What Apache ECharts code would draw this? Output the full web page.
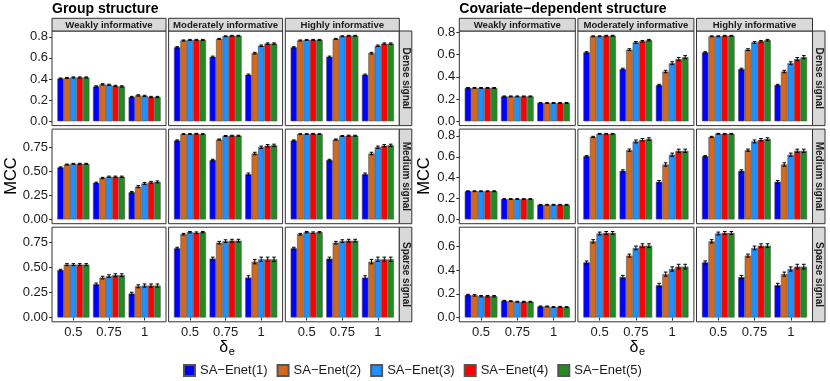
<!DOCTYPE html>
<html>
<head>
<meta charset="utf-8">
<script src="https://cdn.jsdelivr.net/npm/echarts@6/dist/echarts.min.js"></script>
<style>
  html, body { margin: 0; padding: 0; background: #fff; }
  #chart { width: 830px; height: 381px; }
</style>
</head>
<body>
<div id="chart"></div>
<script>
const methods = ['SA−Enet(1)', 'SA−Enet(2)', 'SA−Enet(3)', 'SA−Enet(4)', 'SA−Enet(5)']
const colors = ['#0000FF', '#D2691E', '#1E90FF', '#FF0000', '#228B22']
const deltas = ['0.5', '0.75', '1']
const infoLevels = ['Weakly informative', 'Moderately informative', 'Highly informative']
const signals = ['Dense signal', 'Medium signal', 'Sparse signal']
const structures = ['Group structure', 'Covariate−dependent structure']

// y tick labels per signal row
const ticksGroup = [['0.0', '0.2', '0.4', '0.6', '0.8'], ['0.00', '0.25', '0.50', '0.75'], ['0.00', '0.25', '0.50', '0.75']]
const ticksCovariate = [['0.0', '0.2', '0.4', '0.6', '0.8'], ['0.0', '0.2', '0.4', '0.6', '0.8'], ['0.0', '0.2', '0.4', '0.6']]

// MCC means: one row per delta_e, one value per method
const groupDenseWeak = [[0.405, 0.41, 0.415, 0.415, 0.415], [0.33, 0.35, 0.345, 0.335, 0.33], [0.23, 0.245, 0.24, 0.23, 0.23]]
const groupDenseModerate = [[0.70, 0.765, 0.77, 0.77, 0.77], [0.61, 0.78, 0.805, 0.81, 0.81], [0.44, 0.645, 0.715, 0.735, 0.735]]
const groupDenseHigh = [[0.70, 0.765, 0.77, 0.77, 0.77], [0.61, 0.78, 0.805, 0.81, 0.81], [0.44, 0.645, 0.715, 0.735, 0.735]]
const groupMediumWeak = [[0.54, 0.57, 0.578, 0.578, 0.578], [0.38, 0.43, 0.443, 0.443, 0.443], [0.283, 0.34, 0.373, 0.385, 0.39]]
const groupMediumModerate = [[0.82, 0.887, 0.887, 0.89, 0.887], [0.617, 0.83, 0.867, 0.87, 0.87], [0.47, 0.685, 0.75, 0.766, 0.77]]
const groupMediumHigh = [[0.82, 0.887, 0.887, 0.89, 0.887], [0.617, 0.83, 0.867, 0.87, 0.87], [0.47, 0.685, 0.75, 0.766, 0.77]]
const groupSparseWeak = [[0.475, 0.53, 0.53, 0.53, 0.53], [0.333, 0.40, 0.414, 0.424, 0.424], [0.24, 0.313, 0.32, 0.32, 0.32]]
const groupSparseModerate = [[0.694, 0.835, 0.855, 0.85, 0.855], [0.59, 0.75, 0.765, 0.77, 0.77], [0.40, 0.56, 0.583, 0.583, 0.583]]
const groupSparseHigh = [[0.694, 0.835, 0.855, 0.85, 0.855], [0.59, 0.75, 0.765, 0.77, 0.77], [0.40, 0.56, 0.583, 0.583, 0.583]]

const covDenseWeak = [[0.30, 0.30, 0.30, 0.30, 0.30], [0.224, 0.224, 0.224, 0.224, 0.224], [0.165, 0.165, 0.165, 0.165, 0.165]]
const covDenseModerate = [[0.62, 0.765, 0.765, 0.77, 0.77], [0.47, 0.645, 0.71, 0.72, 0.73], [0.326, 0.448, 0.523, 0.56, 0.577]]
const covDenseHigh = [[0.62, 0.765, 0.765, 0.77, 0.77], [0.47, 0.645, 0.71, 0.72, 0.73], [0.326, 0.448, 0.523, 0.56, 0.577]]
const covMediumWeak = [[0.27, 0.27, 0.27, 0.27, 0.27], [0.195, 0.195, 0.195, 0.195, 0.195], [0.14, 0.14, 0.14, 0.14, 0.14]]
const covMediumModerate = [[0.605, 0.79, 0.82, 0.82, 0.82], [0.465, 0.663, 0.747, 0.763, 0.77], [0.36, 0.526, 0.62, 0.657, 0.657]]
const covMediumHigh = [[0.605, 0.79, 0.82, 0.82, 0.82], [0.465, 0.663, 0.747, 0.763, 0.77], [0.36, 0.526, 0.62, 0.657, 0.657]]
const covSparseWeak = [[0.19, 0.187, 0.18, 0.18, 0.18], [0.141, 0.138, 0.133, 0.133, 0.133], [0.093, 0.093, 0.088, 0.09, 0.088]]
const covSparseModerate = [[0.466, 0.644, 0.71, 0.715, 0.715], [0.342, 0.523, 0.588, 0.607, 0.607], [0.274, 0.367, 0.41, 0.43, 0.43]]
const covSparseHigh = [[0.466, 0.644, 0.71, 0.715, 0.715], [0.342, 0.523, 0.588, 0.607, 0.607], [0.274, 0.367, 0.41, 0.43, 0.43]]

// standard errors, same shape
const groupDenseWeakErr = [[0.005, 0.005, 0.005, 0.005, 0.005], [0.006, 0.006, 0.006, 0.006, 0.006], [0.006, 0.006, 0.006, 0.006, 0.006]]
const groupDenseModerateErr = [[0.006, 0.005, 0.005, 0.005, 0.005], [0.007, 0.005, 0.004, 0.004, 0.004], [0.007, 0.008, 0.007, 0.007, 0.007]]
const groupDenseHighErr = [[0.006, 0.005, 0.005, 0.005, 0.005], [0.007, 0.005, 0.004, 0.004, 0.004], [0.007, 0.008, 0.007, 0.007, 0.007]]
const groupMediumWeakErr = [[0.006, 0.005, 0.005, 0.005, 0.005], [0.007, 0.007, 0.007, 0.007, 0.007], [0.008, 0.01, 0.01, 0.01, 0.01]]
const groupMediumModerateErr = [[0.006, 0.004, 0.004, 0.004, 0.004], [0.008, 0.006, 0.005, 0.005, 0.005], [0.012, 0.013, 0.012, 0.012, 0.012]]
const groupMediumHighErr = [[0.006, 0.004, 0.004, 0.004, 0.004], [0.008, 0.006, 0.005, 0.005, 0.005], [0.012, 0.013, 0.012, 0.012, 0.012]]
const groupSparseWeakErr = [[0.008, 0.01, 0.01, 0.01, 0.01], [0.012, 0.013, 0.014, 0.014, 0.014], [0.013, 0.015, 0.016, 0.016, 0.016]]
const groupSparseModerateErr = [[0.01, 0.008, 0.007, 0.008, 0.006], [0.015, 0.013, 0.014, 0.014, 0.014], [0.018, 0.022, 0.022, 0.022, 0.022]]
const groupSparseHighErr = [[0.01, 0.008, 0.007, 0.008, 0.006], [0.015, 0.013, 0.014, 0.014, 0.014], [0.018, 0.022, 0.022, 0.022, 0.022]]

const covDenseWeakErr = [[0.004, 0.004, 0.004, 0.004, 0.004], [0.004, 0.004, 0.004, 0.004, 0.004], [0.004, 0.004, 0.004, 0.004, 0.004]]
const covDenseModerateErr = [[0.006, 0.004, 0.004, 0.004, 0.004], [0.008, 0.008, 0.008, 0.007, 0.007], [0.007, 0.011, 0.013, 0.014, 0.014]]
const covDenseHighErr = [[0.006, 0.004, 0.004, 0.004, 0.004], [0.008, 0.008, 0.008, 0.007, 0.007], [0.007, 0.011, 0.013, 0.014, 0.014]]
const covMediumWeakErr = [[0.004, 0.004, 0.004, 0.004, 0.004], [0.004, 0.004, 0.004, 0.004, 0.004], [0.004, 0.004, 0.004, 0.004, 0.004]]
const covMediumModerateErr = [[0.006, 0.006, 0.004, 0.004, 0.004], [0.01, 0.011, 0.014, 0.012, 0.012], [0.012, 0.016, 0.015, 0.016, 0.016]]
const covMediumHighErr = [[0.006, 0.006, 0.004, 0.004, 0.004], [0.01, 0.011, 0.014, 0.012, 0.012], [0.012, 0.016, 0.015, 0.016, 0.016]]
const covSparseWeakErr = [[0.006, 0.006, 0.006, 0.006, 0.006], [0.004, 0.004, 0.004, 0.004, 0.004], [0.004, 0.004, 0.004, 0.004, 0.004]]
const covSparseModerateErr = [[0.012, 0.014, 0.012, 0.012, 0.012], [0.014, 0.013, 0.016, 0.016, 0.016], [0.015, 0.017, 0.018, 0.02, 0.02]]
const covSparseHighErr = [[0.012, 0.014, 0.012, 0.012, 0.012], [0.014, 0.013, 0.016, 0.016, 0.016], [0.015, 0.017, 0.018, 0.02, 0.02]]

// [structure][signal][informativeness]
const values = [
  [[groupDenseWeak, groupDenseModerate, groupDenseHigh],
   [groupMediumWeak, groupMediumModerate, groupMediumHigh],
   [groupSparseWeak, groupSparseModerate, groupSparseHigh]],
  [[covDenseWeak, covDenseModerate, covDenseHigh],
   [covMediumWeak, covMediumModerate, covMediumHigh],
   [covSparseWeak, covSparseModerate, covSparseHigh]]
]
const errors = [
  [[groupDenseWeakErr, groupDenseModerateErr, groupDenseHighErr],
   [groupMediumWeakErr, groupMediumModerateErr, groupMediumHighErr],
   [groupSparseWeakErr, groupSparseModerateErr, groupSparseHighErr]],
  [[covDenseWeakErr, covDenseModerateErr, covDenseHighErr],
   [covMediumWeakErr, covMediumModerateErr, covMediumHighErr],
   [covSparseWeakErr, covSparseModerateErr, covSparseHighErr]]
]
const yTicks = [ticksGroup, ticksCovariate]

// layout of the facet panels
const FONT = '"Liberation Sans", Arial, sans-serif'
const panelLeft = [[52, 168.6, 285.3], [459.3, 577.9, 696.5]]
const panelWidth = [114, 116]
const rowTop = [31, 129.1, 227.2]
const rowH = 94.6
const stripH = 12.7
const sideStripW = 12.5

const chart = echarts.init(document.getElementById('chart'))

const grids = []
const xAxes = []
const yAxes = []
const series = []
const graphics = []

function errorBarItem(params, api) {
  const cat = api.value(0)
  const m = api.value(1)
  const lo = api.coord([cat, api.value(2)])
  const hi = api.coord([cat, api.value(3)])
  const bw = api.size([1, 0])[0] * 0.9 / methods.length
  const x = lo[0] + (m - 2) * bw
  const cap = bw * 0.28
  const style = { stroke: '#000', lineWidth: 1 }
  return {
    type: 'group',
    children: [
      { type: 'line', shape: { x1: x, y1: lo[1], x2: x, y2: hi[1] }, style },
      { type: 'line', shape: { x1: x - cap, y1: hi[1], x2: x + cap, y2: hi[1] }, style },
      { type: 'line', shape: { x1: x - cap, y1: lo[1], x2: x + cap, y2: lo[1] }, style }
    ]
  }
}

for (let s = 0; s < 2; s++) {
  const pw = panelWidth[s]
  const unit = pw / 3.2
  const inset = unit * 0.1

  // title
  graphics.push({
    type: 'text', x: panelLeft[s][0], y: 9,
    style: { text: structures[s], font: 'bold 14px ' + FONT, fill: '#000', align: 'left', verticalAlign: 'middle', textAlign: 'left', textVerticalAlign: 'middle' }
  })

  for (let r = 0; r < 3; r++) {
    // y range like ggplot: 5% expansion around [0, max]
    let top = 0
    for (let c = 0; c < 3; c++) {
      values[s][r][c].forEach((row, d) => row.forEach((v, m) => {
        top = Math.max(top, v + errors[s][r][c][d][m])
      }))
    }
    const yMin = -0.05 * top
    const yMax = 1.05 * top
    const tickLabels = yTicks[s][r]
    const tickVals = tickLabels.map(Number)

    for (let c = 0; c < 3; c++) {
      const g = grids.length
      const pl = panelLeft[s][c]
      grids.push({ left: pl + inset, top: rowTop[r], width: unit * 3, height: rowH, containLabel: false, outerBoundsMode: 'none' })

      xAxes.push({
        type: 'category', gridIndex: g, data: deltas,
        axisLine: { show: false },
        axisTick: { show: r === 2, alignWithLabel: true, interval: 0, length: 3, lineStyle: { color: '#333' } },
        axisLabel: { show: r === 2, interval: 0, fontSize: 13, color: '#1a1a1a', margin: 4, fontFamily: FONT },
        splitLine: { show: false }
      })

      yAxes.push({
        type: 'value', gridIndex: g, min: yMin, max: yMax, offset: inset,
        axisLine: { show: false },
        axisTick: { show: c === 0, length: 3, lineStyle: { color: '#333' }, customValues: tickVals },
        axisLabel: {
          show: c === 0, customValues: tickVals, fontSize: 13, color: '#1a1a1a', margin: 4, fontFamily: FONT,
          formatter: v => tickLabels[tickVals.indexOf(v)] ?? v
        },
        splitLine: { show: false }
      })

      const vals = values[s][r][c]
      const errs = errors[s][r][c]
      methods.forEach((name, m) => {
        series.push({
          type: 'bar', name, xAxisIndex: g, yAxisIndex: g,
          data: vals.map(row => row[m]),
          barGap: '0%', barCategoryGap: '10%',
          itemStyle: { color: colors[m], borderColor: '#555', borderWidth: 0.6 },
          silent: true, animation: false
        })
      })
      const ebData = []
      vals.forEach((row, d) => row.forEach((v, m) => {
        ebData.push([d, m, v - errs[d][m], v + errs[d][m]])
      }))
      series.push({
        type: 'custom', name: 'err', xAxisIndex: g, yAxisIndex: g,
        renderItem: errorBarItem, data: ebData, encode: { x: 0, y: [2, 3] },
        silent: true, animation: false, z: 5
      })

      // panel frame
      graphics.push({
        type: 'rect', z: 10,
        shape: { x: pl, y: rowTop[r], width: pw, height: rowH },
        style: { fill: 'none', stroke: '#333', lineWidth: 1 }
      })

      // top strips
      if (r === 0) {
        graphics.push({
          type: 'rect', z: 10,
          shape: { x: pl, y: rowTop[0] - stripH, width: pw, height: stripH },
          style: { fill: '#D9D9D9', stroke: '#333', lineWidth: 1 }
        })
        graphics.push({
          type: 'text', z: 11, x: pl + pw / 2, y: rowTop[0] - stripH / 2 + 0.5,
          style: { text: infoLevels[c], font: 'bold 9.6px ' + FONT, fill: '#1a1a1a', align: 'center', verticalAlign: 'middle', textAlign: 'center', textVerticalAlign: 'middle' }
        })
      }
    }

    // side strip
    const sx = panelLeft[s][2] + pw
    graphics.push({
      type: 'rect', z: 10,
      shape: { x: sx, y: rowTop[r], width: sideStripW, height: rowH },
      style: { fill: '#D9D9D9', stroke: '#333', lineWidth: 1 }
    })
    graphics.push({
      type: 'text', z: 11, x: sx + sideStripW / 2, y: rowTop[r] + rowH / 2, rotation: -Math.PI / 2,
      style: { text: signals[r], font: 'bold 10px ' + FONT, fill: '#1a1a1a', align: 'center', verticalAlign: 'middle', textAlign: 'center', textVerticalAlign: 'middle' }
    })
  }

  // axis titles
  const midX = panelLeft[s][0] + (panelLeft[s][2] + pw - panelLeft[s][0]) / 2
  graphics.push({
    type: 'text', x: midX - 2, y: 348,
    style: { text: 'δ', font: '16px ' + FONT, fill: '#000', align: 'center', verticalAlign: 'middle', textAlign: 'center', textVerticalAlign: 'middle' }
  })
  graphics.push({
    type: 'text', x: midX + 3, y: 352,
    style: { text: 'e', font: '11px ' + FONT, fill: '#000', align: 'left', verticalAlign: 'middle', textAlign: 'left', textVerticalAlign: 'middle' }
  })
  graphics.push({
    type: 'text', x: s === 0 ? 11 : 424, y: 176, rotation: Math.PI / 2,
    style: { text: 'MCC', font: '16.5px ' + FONT, fill: '#000', align: 'center', verticalAlign: 'middle', textAlign: 'center', textVerticalAlign: 'middle' }
  })
}

const option = {
  backgroundColor: '#fff',
  animation: false,
  textStyle: { fontFamily: FONT },
  legend: {
    data: methods, left: 178, top: 359, itemWidth: 11, itemHeight: 11, itemGap: 9, icon: 'rect',
    textStyle: { fontSize: 13, color: '#1a1a1a', fontFamily: FONT }
  },
  grid: grids,
  xAxis: xAxes,
  yAxis: yAxes,
  series: series,
  graphic: { elements: graphics }
}

chart.setOption(option)
window.addEventListener('resize', () => chart.resize())
</script>
</body>
</html>
